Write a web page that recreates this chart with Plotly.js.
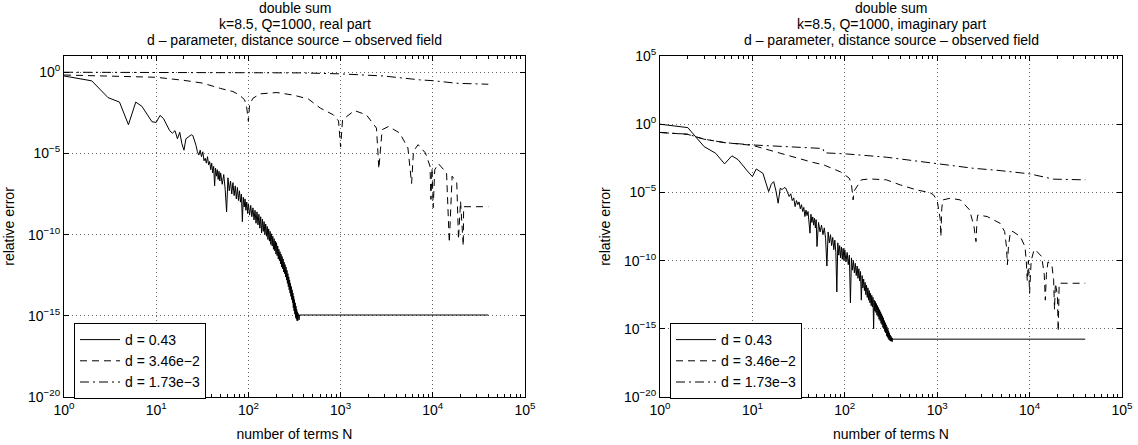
<!DOCTYPE html>
<html>
<head>
<meta charset="utf-8">
<script src="https://cdn.plot.ly/plotly-3.0.1.min.js"></script>
<style>html,body{margin:0;padding:0;background:#fff;}#chart{width:1138px;height:445px;}</style>
</head>
<body>
<div id="chart"></div>
<script>
// ---------- DATA (log10 of relative error) ----------
const legendNames = ["d = 0.43", "d = 3.46e\u22122", "d = 1.73e\u22123"];
const xTickVals = [1, 10, 100, 1000, 10000, 100000];
const xTickText = ["10<sup>0</sup>", "10<sup>1</sup>", "10<sup>2</sup>", "10<sup>3</sup>", "10<sup>4</sup>", "10<sup>5</sup>"];
const yTickValsLeft = [1e-20, 1e-15, 1e-10, 1e-5, 1];
const yTickTextLeft = ["10<sup>\u221220</sup>", "10<sup>\u221215</sup>", "10<sup>\u221210</sup>", "10<sup>\u22125</sup>", "10<sup>0</sup>"];
const yTickValsRight = [1e-20, 1e-15, 1e-10, 1e-5, 1, 1e5];
const yTickTextRight = ["10<sup>\u221220</sup>", "10<sup>\u221215</sup>", "10<sup>\u221210</sup>", "10<sup>\u22125</sup>", "10<sup>0</sup>", "10<sup>5</sup>"];

// Real part, d = 0.43 (solid)
const reSolidN = [1,2,3,4,5,6,7,8,9,10,11,12,13,14,15,16,17,18,19,20,21,22,23,24,25,26,27,28,29,30,
  31,32,33,34,35,36,37,38,39,40,41,42,43,44,45,46,47,48,49,50,
  52,54,56,58,60,62,64,66,68,70,72,74,76,78,80,82,84,86,88,90,92,94,96,98,
  100,103,106,109,112,115,118,121,124,127,130,133,136,139,142,145,148,151,154,157,160,163,166,169,172,175,178,181,184,187,190,193,196,199,
  202,205,208,211,214,217,220,223,226,229,232,235,238,241,244,247,250,253,256,259,262,265,268,271,274,277,280,283,286,289,292,295,298,
  301,304,307,310,313,316,319,322,325,328,331,334,337,340,343,346,349,352,355,358,
  362,1000,10000,40000];
const reSolidLog = [-0.23,-0.53,-1.56,-1.84,-3.23,-1.84,-2.1,-2.6,-3.05,-3.09,-2.66,-2.85,-3.25,-3.6,-3.75,-3.6,-4.1,-3.7,-4.4,-4.8,-4.1,-4.0,-3.95,-3.85,-3.9,-4.15,-4.5,-4.9,-5.1,-4.8,
  -5.2,-4.9,-5.45,-5.3,-5.6,-5.2,-5.7,-5.5,-6.0,-5.6,-6.2,-5.8,-7.0,-5.9,-6.4,-6.0,-6.6,-6.1,-6.7,-6.2,
  -6.9,-6.3,-7.2,-8.6,-6.5,-7.3,-6.7,-7.5,-6.8,-7.6,-7.0,-7.8,-7.1,-7.9,-7.3,-8.0,-7.5,-9.2,-7.7,-8.3,-7.8,-8.5,-8.0,-8.7,
  -8.1,-8.8,-8.2,-8.9,-8.35,-9.1,-8.5,-9.3,-8.6,-9.4,-8.75,-9.6,-8.9,-9.9,-9.05,-9.8,-9.2,-10.0,-9.35,-10.1,-9.5,-10.3,-9.65,-10.4,-9.8,-10.6,-9.95,-10.7,-10.1,-10.9,-10.25,-11.0,-10.4,-11.2,
  -10.5,-11.3,-10.7,-11.5,-10.9,-11.6,-11.05,-11.8,-11.2,-12.0,-11.35,-12.1,-11.5,-12.3,-11.7,-12.4,-11.85,-12.6,-12.0,-12.8,-12.2,-13.0,-12.4,-13.2,-12.6,-13.4,-12.8,-13.6,-13.0,-13.8,-13.2,-14.0,-13.4,
  -14.2,-13.6,-14.5,-13.8,-14.7,-14.0,-14.9,-14.2,-15.1,-14.4,-15.2,-14.6,-15.3,-14.75,-15.3,-14.85,-15.2,-14.9,-15.25,-14.95,
  -14.95,-14.95,-14.95,-14.95];

// Real part, d = 3.46e-2 (dashed)
const reDashN = [1,2,5,10,20,32,50,68,80,91,96,100,103,112,135,204,309,363,447,603,832,950,1000,1050,1410,1900,2450,2600,2820,3310,4370,5370,5890,6170,6920,8320,9330,9550,9800,10100,10500,11500,14100,15100,16200,18200,19000,20000,21400,21600,40000];
const reDashLog = [-0.17,-0.2,-0.27,-0.31,-0.5,-0.67,-1.0,-1.19,-1.4,-1.7,-2.2,-3.03,-2.0,-1.6,-1.33,-1.25,-1.41,-1.5,-1.65,-2.21,-2.62,-3.0,-4.6,-2.93,-2.36,-2.62,-3.44,-5.95,-3.54,-3.34,-3.74,-4.66,-6.85,-4.87,-4.46,-4.97,-5.79,-7.83,-5.9,-8.34,-6.0,-5.63,-6.2,-10.5,-6.4,-6.81,-10.3,-7.94,-10.7,-8.28,-8.28];

// Real part, d = 1.73e-3 (dash-dot)
const reDotN = [1,10,100,370,1000,2900,7240,10000,18200,30000,40000];
const reDotLog = [0.0,-0.01,-0.03,-0.04,-0.1,-0.23,-0.47,-0.52,-0.68,-0.72,-0.74];

// Imaginary part, d = 0.43 (solid)
const imSolidN = [1,2,3,4,5,6,7,8,9,10,11,12,13,14,15,16,17,18,19,20,21,22,23,24,25,26,27,28,29,30,
  31,32,33,34,35,36,37,38,39,40,41,42,43,44,45,46,47,48,49,50,
  52,54,56,58,60,62,64,66,68,70,72,74,76,78,80,82,84,86,88,90,92,94,96,98,
  100,103,106,109,112,115,118,121,124,127,130,133,136,139,142,145,148,151,154,157,160,163,166,169,172,175,178,181,184,187,190,193,196,199,202,
  205,208,211,214,217,220,223,226,229,232,235,238,241,244,247,250,253,256,259,262,265,268,271,274,277,280,283,286,289,292,295,298,
  301,304,307,310,313,316,319,322,325,328,331,
  1000,10000,40000];
const imSolidLog = [0.0,-0.25,-1.64,-2.13,-2.91,-2.32,-2.6,-3.1,-3.5,-3.84,-3.28,-3.45,-3.6,-4.3,-4.94,-4.4,-4.21,-4.9,-5.79,-4.69,-4.8,-4.65,-4.69,-5.0,-5.3,-5.1,-5.6,-5.4,-6.04,-5.6,
  -5.9,-5.7,-6.2,-5.9,-6.4,-6.1,-6.77,-6.3,-6.7,-6.4,-7.0,-7.99,-6.6,-7.2,-6.8,-7.4,-6.9,-7.6,-7.0,-8.97,
  -7.2,-7.9,-7.4,-8.1,-7.6,-8.4,-10.4,-7.9,-8.7,-8.1,-8.9,-8.3,-9.2,-8.5,-9.4,-12.3,-8.7,-9.6,-8.9,-9.8,-9.0,-9.9,-9.1,-10.0,
  -9.2,-10.1,-9.4,-10.3,-9.6,-13.1,-9.8,-10.7,-10.0,-10.9,-10.2,-11.1,-10.4,-11.3,-10.6,-11.5,-10.8,-12.9,-11.1,-12.0,-11.35,-12.2,-11.6,-12.5,-11.8,-12.7,-12.0,-12.9,-12.2,-13.1,-12.4,-13.3,-12.55,-13.4,-12.7,
  -15.0,-12.9,-13.7,-13.0,-13.8,-13.15,-14.0,-13.3,-14.1,-13.45,-14.3,-13.6,-14.4,-13.75,-14.6,-13.9,-14.7,-14.05,-14.9,-14.2,-15.0,-14.4,-15.2,-14.55,-15.3,-14.7,-15.5,-14.85,-15.6,-15.0,-15.7,-15.15,
  -15.8,-15.3,-15.85,-15.45,-15.9,-15.55,-15.9,-15.65,-15.95,-15.7,-15.76,
  -15.76,-15.76,-15.76];

// Imaginary part, d = 3.46e-2 (dashed)
const imDashN = [1,2,3,5,10,15,20,26,35,45,59,75,90,100,112,118,121,123,126,135,151,186,240,282,398,600,830,912,1000,1080,1096,1120,1150,1380,1780,2240,2500,2630,2700,2750,3470,4790,5370,5620,5750,5900,6200,6600,7940,8910,9200,9440,9700,10000,10400,11200,11500,13500,14400,14800,15200,15800,17400,18200,18600,19000,20000,20400,20900,40000];
const imDashLog = [-0.6,-0.75,-1.1,-1.35,-1.55,-1.9,-2.15,-2.37,-2.6,-2.8,-2.98,-3.25,-3.5,-3.72,-3.96,-4.4,-5.0,-5.55,-4.9,-4.62,-4.08,-4.01,-4.05,-4.08,-4.45,-4.82,-5.01,-5.18,-5.6,-7.0,-8.24,-6.2,-5.55,-5.43,-5.55,-6.28,-7.5,-8.61,-7.0,-6.65,-6.77,-7.26,-7.87,-9.0,-10.3,-9.0,-7.87,-7.87,-8.24,-8.97,-10.0,-11.5,-10.0,-12.4,-10.0,-9.2,-9.2,-9.7,-11.0,-12.9,-11.0,-10.1,-10.3,-11.4,-13.6,-11.66,-12.5,-15.2,-11.66,-11.66];

// Imaginary part, d = 1.73e-3 (dash-dot)
const imDotN = [1,2,3,5,10,26,58,60,105,282,650,980,2450,4790,10000,18200,40000];
const imDotLog = [-0.61,-0.73,-1.1,-1.35,-1.52,-1.69,-1.78,-2.1,-2.18,-2.42,-2.74,-2.86,-3.23,-3.4,-3.64,-4.03,-4.08];

// ---------- PLOT ----------
const pow10 = a => a.map(v => Math.pow(10, v));
const FONT = "Liberation Sans, Arial, Helvetica, sans-serif";
const FS = 14;
const dashStyles = ["solid", "7px,5px", "9px,4px,2px,4px"];

function mk(x, y, i, xa, ya, lg) {
  return {x: x, y: pow10(y), type: "scatter", mode: "lines", name: legendNames[i],
    xaxis: xa, yaxis: ya, legend: lg,
    line: {color: "#000", width: 1, dash: dashStyles[i]}, hoverinfo: "skip"};
}

const traces = [
  mk(reSolidN, reSolidLog, 0, "x", "y", "legend"),
  mk(reDashN, reDashLog, 1, "x", "y", "legend"),
  mk(reDotN, reDotLog, 2, "x", "y", "legend"),
  mk(imSolidN, imSolidLog, 0, "x2", "y2", "legend2"),
  mk(imDashN, imDashLog, 1, "x2", "y2", "legend2"),
  mk(imDotN, imDotLog, 2, "x2", "y2", "legend2")
];

function xAxis(domain, anchor) {
  return {type: "log", domain: domain, anchor: anchor, range: [0, 5],
    tickmode: "array", tickvals: xTickVals, ticktext: xTickText,
    ticks: "inside", ticklen: 5, tickcolor: "#000", mirror: "ticks",
    showline: true, linecolor: "#000", linewidth: 1,
    showgrid: true, gridcolor: "#666", gridwidth: 1, griddash: "1px,3px",
    zeroline: false, tickfont: {family: FONT, size: FS, color: "#000"},
    minor: {tickmode: "linear", dtick: "D1", ticks: "inside", ticklen: 3, tickcolor: "#000", showgrid: false},
    title: {text: "number of terms N", font: {family: FONT, size: FS, color: "#000"}, standoff: 12},
    automargin: false};
}
function yAxis(domain, anchor, range, tv, tt) {
  return {type: "log", domain: domain, anchor: anchor, range: range,
    tickmode: "array", tickvals: tv, ticktext: tt,
    ticks: "inside", ticklen: 5, tickcolor: "#000", mirror: "ticks",
    showline: true, linecolor: "#000", linewidth: 1,
    showgrid: true, gridcolor: "#666", gridwidth: 1, griddash: "1px,3px",
    zeroline: false, tickfont: {family: FONT, size: FS, color: "#000"},
    title: {text: "relative error", font: {family: FONT, size: FS, color: "#000"}, standoff: 10},
    automargin: false};
}

const L = 64, R = 1122, T = 56, B = 397;
const W = R - L, H = B - T;
const px = p => (p - L) / W;
const py = p => (B - p) / H;

const titleLinesLeft = ["double sum", "k=8.5, Q=1000, real part", "d \u2013 parameter, distance source \u2013 observed field"];
const titleLinesRight = ["double sum", "k=8.5, Q=1000, imaginary part", "d \u2013 parameter, distance source \u2013 observed field"];
const titleY = [8.5, 24, 39.5];
const annotations = [];
titleLinesLeft.forEach((t, i) => annotations.push({text: t, xref: "paper", yref: "paper", x: px(294.5), y: py(titleY[i]), xanchor: "center", yanchor: "middle", showarrow: false, font: {family: FONT, size: FS, color: "#000"}}));
titleLinesRight.forEach((t, i) => annotations.push({text: t, xref: "paper", yref: "paper", x: px(891), y: py(titleY[i]), xanchor: "center", yanchor: "middle", showarrow: false, font: {family: FONT, size: FS, color: "#000"}}));

const legendStyle = (x) => ({x: x, y: py(323), xanchor: "left", yanchor: "top", xref: "paper", yref: "paper",
  bgcolor: "#fff", bordercolor: "#000", borderwidth: 1, font: {family: FONT, size: FS, color: "#000"},
  tracegroupgap: 0, itemwidth: 40});

const layout = {
  width: 1138, height: 445, paper_bgcolor: "#fff", plot_bgcolor: "#fff",
  margin: {l: L, r: 1138 - R, t: T, b: 445 - B},
  showlegend: true,
  xaxis: xAxis([0, px(525)], "y"),
  yaxis: yAxis([0, 1], "x", [-20, 1], yTickValsLeft, yTickTextLeft),
  xaxis2: xAxis([px(660), 1], "y2"),
  yaxis2: yAxis([0, 1], "x2", [-20, 5], yTickValsRight, yTickTextRight),
  legend: legendStyle(px(74)),
  legend2: legendStyle(px(670)),
  annotations: annotations,
  font: {family: FONT, size: FS, color: "#000"}
};

Plotly.newPlot("chart", traces, layout, {staticPlot: true, displayModeBar: false});
</script>
</body>
</html>
